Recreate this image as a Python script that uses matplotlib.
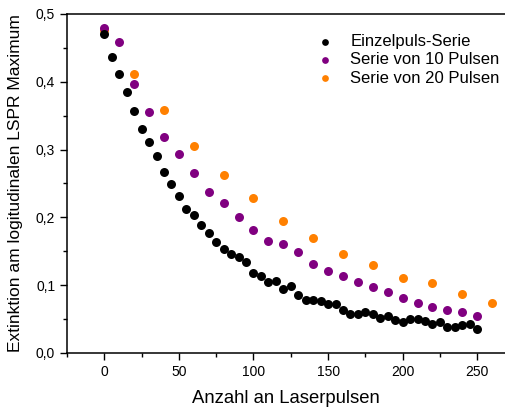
import matplotlib
matplotlib.use("Agg")
import matplotlib.pyplot as plt
from matplotlib.ticker import MultipleLocator, FuncFormatter

plt.rcParams['font.family'] = ['Liberation Sans', 'DejaVu Sans']

x_single = list(range(0, 251, 5))
y_single = [0.470, 0.437, 0.411, 0.385, 0.357, 0.331, 0.311, 0.290, 0.267, 0.250,
            0.231, 0.213, 0.204, 0.189, 0.177, 0.164, 0.153, 0.146, 0.141, 0.134,
            0.118, 0.113, 0.105, 0.106, 0.095, 0.099, 0.085, 0.078, 0.078, 0.077,
            0.072, 0.072, 0.064, 0.057, 0.057, 0.060, 0.058, 0.051, 0.054, 0.048,
            0.045, 0.050, 0.050, 0.047, 0.043, 0.046, 0.038, 0.038, 0.041, 0.043,
            0.036]

x_10 = list(range(0, 251, 10))
y_10 = [0.479, 0.459, 0.397, 0.356, 0.319, 0.293, 0.265, 0.238, 0.221, 0.200,
        0.181, 0.165, 0.161, 0.149, 0.132, 0.121, 0.113, 0.104, 0.098, 0.090,
        0.081, 0.074, 0.068, 0.063, 0.061, 0.054]

x_20 = list(range(0, 261, 20))
y_20 = [0.476, 0.412, 0.358, 0.306, 0.262, 0.228, 0.195, 0.170, 0.146, 0.130,
        0.111, 0.103, 0.087, 0.074]

fig = plt.figure(figsize=(5.06, 4.08), dpi=100)
ax = fig.add_axes([67/506, 1-353/408, (505-67)/506, (353-14)/408])

ax.scatter(x_20, y_20, s=42, color='#ff8000', linewidths=0, label='Serie von 20 Pulsen', zorder=3)
ax.scatter(x_10, y_10, s=42, color='#800080', linewidths=0, label='Serie von 10 Pulsen', zorder=4)
ax.scatter(x_single, y_single, s=42, color='black', linewidths=0, label='Einzelpuls-Serie', zorder=5)

ax.set_xlim(-25, 268.6)
ax.set_ylim(0, 0.5)
ax.xaxis.set_major_locator(MultipleLocator(50))
ax.xaxis.set_minor_locator(MultipleLocator(25))
ax.yaxis.set_major_locator(MultipleLocator(0.1))
ax.yaxis.set_minor_locator(MultipleLocator(0.05))
ax.yaxis.set_major_formatter(FuncFormatter(lambda v, p: f"{v:.1f}".replace('.', ',')))
ax.tick_params(which='major', direction='out', length=5, width=1, labelsize=10)
ax.tick_params(which='minor', direction='out', length=3, width=1)
ax.spines['right'].set_visible(False)
for s in ['left', 'bottom', 'top']:
    ax.spines[s].set_linewidth(1.1)

ax.set_xlabel('Anzahl an Laserpulsen', fontsize=13.3, labelpad=8)
ax.set_ylabel('Extinktion am logitudinalen LSPR Maximum', fontsize=12.5, labelpad=9)

h, l = ax.get_legend_handles_labels()
ax.legend(h[::-1], l[::-1], loc='upper right', bbox_to_anchor=(1.022, 0.985), frameon=False,
          fontsize=12, handletextpad=0.5, labelspacing=0.2, scatterpoints=1, markerscale=0.75)

fig.savefig('out.png', dpi=100)
